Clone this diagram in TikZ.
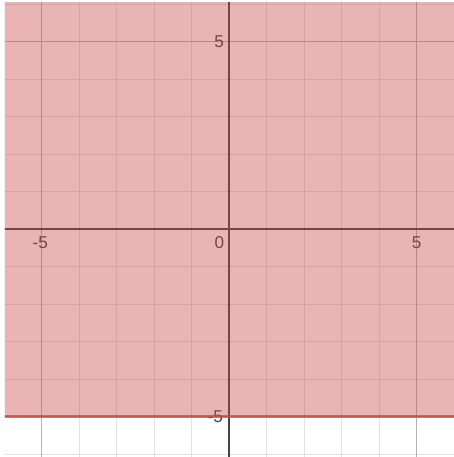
\documentclass[tikz,border=0pt]{standalone}
\usepackage{fontspec}
\setmainfont{Liberation Sans}
\usepackage{tikz}
\definecolor{region}{HTML}{C74440}
\definecolor{minor}{HTML}{E2E2E2}
\definecolor{major}{HTML}{B4B4B4}
\definecolor{axis}{HTML}{444444}
\tikzset{
  gridminor/.style={draw=minor, line width=0.75pt},
  gridmajor/.style={draw=major, line width=1.2pt},
  axisline/.style={draw=axis, line width=1.5pt},
  shade/.style={fill=region, fill opacity=0.4},
  bound/.style={draw=region, draw opacity=0.75, line width=2.2pt},
  tick/.style={text=axis, font=\fontsize{13}{15}\selectfont, inner sep=0pt},
}
\begin{document}
\begin{tikzpicture}
  \useasboundingbox (-6.112,-6.075) rectangle (5.995,6.112);
  \begin{scope}
    \clip (-5.979,-6.075) rectangle (5.995,6.032);
    % grid
    \foreach \k in {-6,...,6} {
      \draw[gridminor] (\k,-6.1) -- (\k,6.1);
      \draw[gridminor] (-6.1,\k) -- (6.1,\k);
    }
    \foreach \k in {-5,5} {
      \draw[gridmajor] (\k,-6.1) -- (\k,6.1);
      \draw[gridmajor] (-6.1,\k) -- (6.1,\k);
    }
    % axes
    \coordinate (O) at (0,0);
    \draw[axisline] (-6.1,0) -- (6.1,0);
    \draw[axisline] (0,-6.1) -- (0,6.1);
    % labels
    \node[tick] (xm5) at (-5.04,-0.36) {-5};
    \node[tick] (xp5) at (5.0,-0.36) {5};
    \node[tick] (zero) at (-0.26,-0.36) {0};
    \node[tick] (yp5) at (-0.27,5.0) {5};
    \node[tick] (ym5) at (-0.37,-5.0) {-5};
    % region y >= -5
    \fill[shade] (-6.1,-5) rectangle (6.1,6.1);
    \draw[bound] (-6.1,-5) -- (6.1,-5);
  \end{scope}
\end{tikzpicture}
\end{document}
